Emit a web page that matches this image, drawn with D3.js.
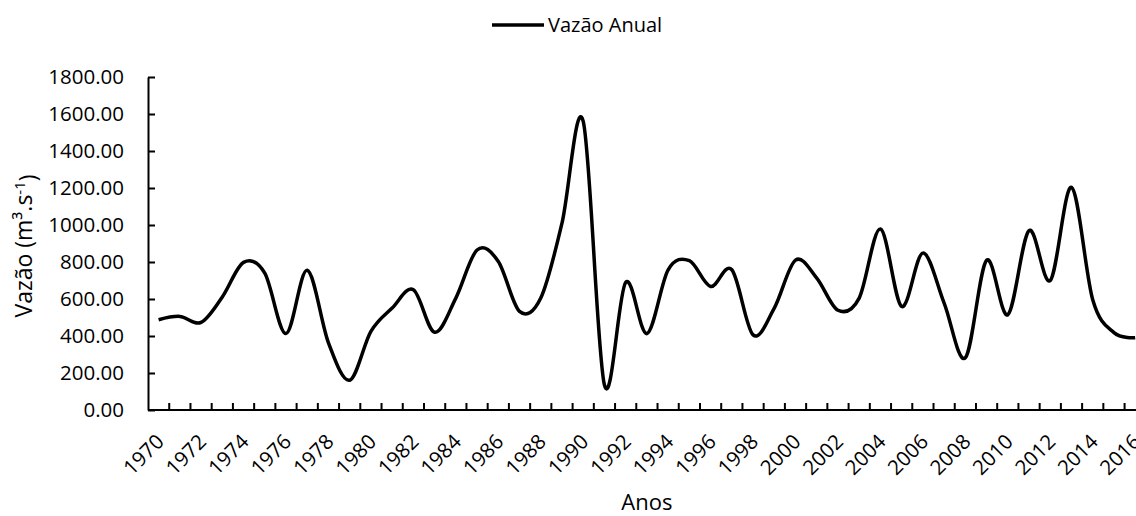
<!DOCTYPE html>
<html>
<head>
<meta charset="utf-8">
<script src="https://cdn.jsdelivr.net/npm/d3@7"></script>
<style>
  body { margin: 0; background: #fff; }
  text { font-family: "Open Sans", sans-serif; fill: #000; }
</style>
</head>
<body>
<div id="chart"></div>
<script>
// data
const years = d3.range(1970, 2017);
const vazao = [488, 506, 474, 611, 798, 740, 413, 755, 363, 161,
  425, 551, 650, 420, 605, 865, 803, 533, 605, 1010,
  1560, 135, 690, 413, 758, 807, 668, 758, 406, 551,
  810, 713, 539, 605, 978, 560, 848, 578, 282, 809,
  515, 970, 700, 1203, 596, 418, 391];
const yTicks = d3.range(0, 1801, 200);
const xLabels = years.filter(d => (d - 1970) % 2 === 0);

const W = 1136, H = 516;
const margin = { top: 77, left: 148, bottom: 106 };
const bandW = 21.23;

const svg = d3.select("#chart").append("svg")
  .attr("width", W).attr("height", H);

const x = d3.scaleBand()
  .domain(years)
  .range([margin.left, margin.left + bandW * years.length])
  .padding(0);

const y = d3.scaleLinear()
  .domain([0, 1800])
  .range([H - margin.bottom, margin.top]);

// y axis
const yAxis = svg.append("g")
  .attr("transform", "translate(" + margin.left + ",0)")
  .call(d3.axisLeft(y)
    .tickValues(yTicks)
    .tickSizeInner(-7)
    .tickSizeOuter(0)
    .tickPadding(24)
    .tickFormat(d3.format(".2f")));
yAxis.select(".domain").attr("stroke", "#000").attr("stroke-width", 2);
yAxis.selectAll(".tick line").attr("stroke", "#000").attr("stroke-width", 2);
yAxis.selectAll("text").style("font-size", "20.5px");

// x axis line + tick marks between categories
const x0 = y(0);
svg.append("line")
  .attr("x1", margin.left).attr("x2", x.range()[1])
  .attr("y1", x0).attr("y2", x0)
  .attr("stroke", "#000").attr("stroke-width", 2);

svg.append("g").selectAll("line")
  .data(years.slice(1).concat([null]))
  .join("line")
  .attr("x1", d => d === null ? x.range()[1] : x(d))
  .attr("x2", d => d === null ? x.range()[1] : x(d))
  .attr("y1", x0).attr("y2", x0 - 7)
  .attr("stroke", "#000").attr("stroke-width", 2);

// rotated year labels
svg.append("g").selectAll("text")
  .data(xLabels)
  .join("text")
  .attr("transform", d => "translate(" + (x(d) + x.bandwidth() / 2 + 1.5) + "," + (x0 + 28) + ") rotate(-45)")
  .attr("text-anchor", "end")
  .attr("dy", "0.35em")
  .style("font-size", "20.5px")
  .text(d => d);

// the line
const line = d3.line()
  .curve(d3.curveCatmullRom.alpha(0))
  .x((d, i) => x(years[i]) + x.bandwidth() / 2)
  .y(d => y(d));

svg.append("path")
  .datum(vazao)
  .attr("fill", "none")
  .attr("stroke", "#000")
  .attr("stroke-width", 3.5)
  .attr("stroke-linejoin", "round")
  .attr("d", line);

// axis titles
svg.append("text")
  .attr("x", (margin.left + x.range()[1]) / 2)
  .attr("y", 510)
  .attr("text-anchor", "middle")
  .style("font-size", "22px")
  .text("Anos");

const yt = svg.append("text")
  .attr("transform", "translate(32,246) rotate(-90)")
  .attr("text-anchor", "middle")
  .style("font-size", "23px");
yt.append("tspan").text("Vazão (m³.s");
yt.append("tspan").attr("dy", "-0.45em").style("font-size", "15px").text("-1");
yt.append("tspan").attr("dy", "0.45em").text(")");

// legend
const lg = svg.append("g").attr("transform", "translate(492,25)");
lg.append("line")
  .attr("x1", 0).attr("x2", 52)
  .attr("stroke", "#000").attr("stroke-width", 3.5);
lg.append("text")
  .attr("x", 56).attr("dy", "0.35em")
  .style("font-size", "20px")
  .text("Vazão Anual");
</script>
</body>
</html>
